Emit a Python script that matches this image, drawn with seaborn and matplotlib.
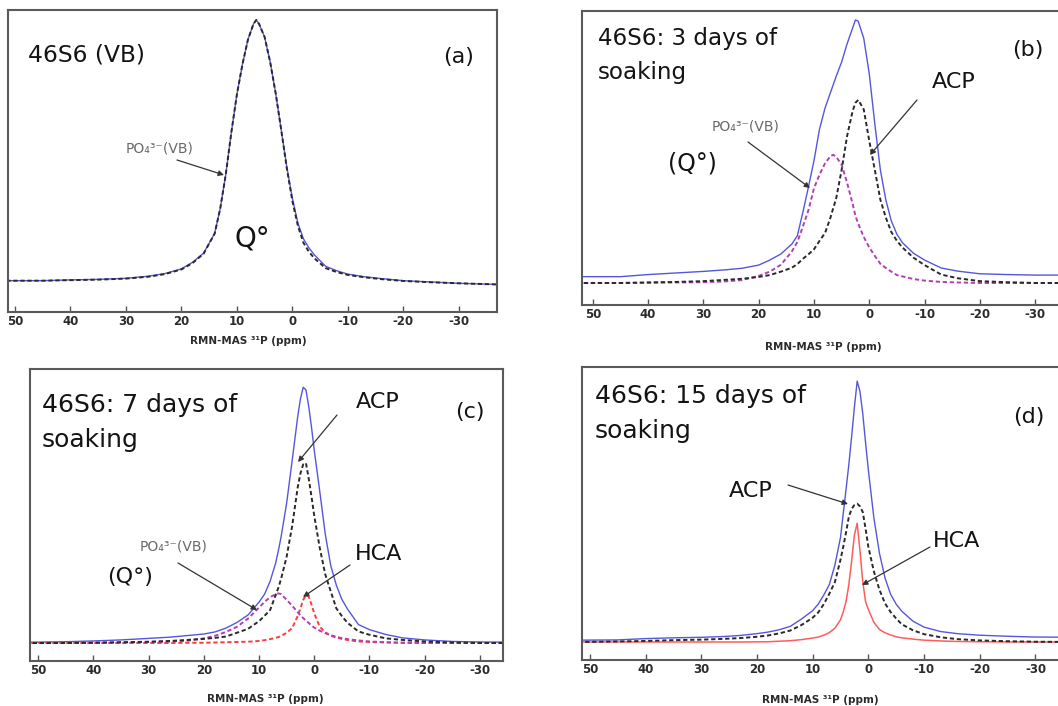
import matplotlib
matplotlib.use('Agg')
import matplotlib.pyplot as plt
import seaborn as sns

# 31P MAS-NMR spectra of 46S6 glass, before and after soaking
# intensities, baseline = 0, tallest peak = 100

ppm_a = [52, 45, 40, 35, 30, 26, 23, 20, 18, 16, 14, 13, 12, 11, 10, 9, 8, 7, 6.5, 6,
         5, 4, 3, 2, 1, 0, -1, -2, -3, -4, -6, -8, -10, -13, -16, -20, -25, -30, -38]
exp_a = [0.5, 0.5, 0.8, 1.0, 1.4, 2.2, 3.2, 5.0, 7.5, 11, 18.5, 28, 41, 57, 71.5, 83, 92.5, 98.5, 100, 98.5,
         93.5, 84, 72, 58, 44, 32, 22.5, 16.5, 13, 10.3, 6, 4.3, 3.0, 2.0, 1.3, 0.5, 0, -0.5, -1]
vb_a = [0.5, 0.5, 0.7, 0.9, 1.3, 2.0, 3.0, 4.8, 7.2, 10.8, 18.5, 28, 41, 57, 71.5, 83, 92.5, 98.5, 100, 98.5,
        93.5, 84, 72, 58, 43.5, 31, 21.5, 15, 11.5, 9, 5.3, 3.8, 2.7, 1.8, 1.1, 0.4, -0.1, -0.5, -1]

ppm_b = [52, 45, 40, 35, 30, 26, 23, 20, 18, 16, 14, 13, 12, 11, 10, 9, 8, 7, 6.5, 6,
         5, 4, 3, 2.5, 2, 1, 0, -1, -2, -3, -4, -5, -6, -8, -10, -13, -16, -20, -25, -30, -38]
exp_b = [2.4, 2.4, 3.2, 3.8, 4.4, 5.0, 5.6, 6.8, 8.7, 11, 14.8, 18, 27, 36.5, 46.5, 58.5, 66.5, 72.5, 75.5, 78.5,
         84, 91, 97, 100, 99.5, 93, 79.5, 60.5, 43, 31.5, 23.5, 18.5, 15.3, 11.3, 8.7, 5.7, 4.5, 3.5, 3.2, 3.0, 3.0]
acp_b = [0, 0, 0.2, 0.4, 0.7, 1.2, 1.6, 2.3, 3, 4.3, 5.8, 7.2, 9.2, 10.9, 12.8, 16, 19, 25, 28.6, 32,
         43, 56, 65.5, 68.5, 69.6, 66, 54, 43, 31.7, 24.8, 19.3, 16, 13.5, 9.6, 6.8, 3.2, 1.8, 0.7, 0.3, 0, 0]
vb_b = [0, 0, 0.1, 0.2, 0.3, 0.6, 1.1, 2.7, 4.3, 6.9, 12, 15.6, 21.5, 27.7, 36, 41.2, 45.5, 48.3, 48.7, 48,
        45, 38, 30, 25.5, 22.5, 17.5, 13.5, 10.3, 7.3, 5.7, 4.3, 3, 2.5, 1.5, 0.9, 0.4, 0.2, 0, 0, 0, 0]

ppm_c = [52, 45, 40, 35, 30, 26, 23, 20, 18, 16, 14, 12, 10, 9, 8, 7, 6.5, 6, 5, 4,
         3, 2.5, 2, 1.5, 1, 0.5, 0, -1, -2, -3, -4, -5, -6, -8, -10, -13, -16, -20, -25, -30, -38]
exp_c = [0.3, 0.5, 0.8, 1.2, 1.8, 2.3, 2.9, 3.5, 4.3, 5.8, 8, 10.9, 15.9, 19, 24, 31, 35.9, 41.4, 54.4, 71,
         88, 95, 99.5, 98.5, 92, 84, 75, 59, 42.3, 30, 22.5, 17, 13.3, 7.2, 5.2, 3.3, 2, 1.2, 0.6, 0.4, 0.3]
acp_c = [0, 0, 0.1, 0.3, 0.5, 0.8, 1.2, 1.6, 2, 2.5, 4, 5.5, 8.5, 10.6, 12.8, 18.6, 21.5, 25, 33.6, 45.5,
         60.5, 66, 69.5, 70, 64, 57, 49.5, 37, 26.7, 20, 13.5, 10.5, 7.9, 4.5, 3.2, 1.8, 1.2, 0.6, 0.2, 0, 0]
vb_c = [0, 0, 0.1, 0.2, 0.4, 0.6, 0.9, 1.8, 2.8, 4.3, 6.3, 9.5, 13.8, 16, 17.8, 19, 19.3, 19, 16.8, 14.5,
        12, 10.7, 9.7, 8.7, 7.8, 6.8, 6, 4.8, 3.8, 3, 2.4, 1.9, 1.5, 1, 0.6, 0.3, 0.1, 0, 0, 0, 0]
hca_c = [0, 0, 0, 0, 0, 0, 0.1, 0.1, 0.2, 0.3, 0.4, 0.5, 0.8, 1.1, 1.5, 2.0, 2.3, 2.7, 4.0, 5.8,
         10.5, 13.5, 16.8, 18.6, 18, 15, 11.5, 6.3, 4.2, 2.8, 2.1, 1.6, 1.2, 0.6, 0.4, 0.2, 0.1, 0, 0, 0, 0]

ppm_d = [52, 45, 40, 35, 30, 26, 23, 20, 18, 16, 14, 12, 10, 9, 8, 7, 6, 5, 4.5, 4, 3.5,
         3, 2.5, 2, 1.5, 1, 0.5, 0, -1, -2, -3, -4, -5, -6, -8, -10, -13, -16, -20, -25, -30, -38]
exp_d = [0.7, 0.8, 1.3, 1.6, 1.8, 2.1, 2.5, 3.2, 3.8, 4.7, 6, 8.8, 12, 14.5, 18, 22, 29.5, 40, 49.3, 58.5, 68,
         78.7, 90, 100, 96, 87.5, 76.5, 66, 47.5, 34, 24.5, 18.3, 14.5, 11.8, 8, 5.7, 4, 3.2, 2.6, 2.2, 1.9, 1.8]
acp_d = [0, 0.2, 0.4, 0.7, 0.9, 1.2, 1.5, 2.0, 2.5, 3.3, 4.4, 6.5, 9.3, 11.3, 14.5, 18.5, 23, 31.5, 36.5, 42, 48,
         51, 52.5, 53, 52, 49.8, 43.5, 36.5, 27, 20, 14.8, 11.5, 9, 6.8, 4.5, 3, 1.8, 1.1, 0.6, 0.3, 0.1, 0]
hca_d = [0, 0, 0, 0, 0, 0, 0, 0.05, 0.1, 0.3, 0.5, 0.9, 1.5, 1.9, 2.6, 3.6, 5.3, 8.5, 11.5, 15.5, 22,
         31, 41, 45.5, 35, 23, 15.5, 12.5, 7.5, 4.8, 3.5, 2.7, 2.0, 1.6, 1.1, 0.7, 0.4, 0.2, 0.1, 0, 0, 0]

tick_ppm = [50, 40, 30, 20, 10, 0, -10, -20, -30]
xlabel = 'RMN-MAS ³¹P (ppm)'
po4 = 'PO₄³⁻(VB)'

W, H = 1058, 706

blue = '#5656dc'
black = '#2a2a2a'
magenta = '#b23fb4'
red = '#ff3c3c'
red_solid = '#ff5c5c'
dash = (0, (2.2, 1.4))

sns.set_theme(style='white')
plt.rcParams['font.family'] = ['DejaVu Sans']
plt.rcParams['axes.unicode_minus'] = False


def P(x, y):
    # image pixel (from top left) -> figure fraction
    return x / W, 1 - y / H


def make_axes(fig, left, top, right, bottom, xlim, ylim):
    ax = fig.add_axes([left / W, 1 - bottom / H, (right - left) / W, (bottom - top) / H])
    ax.set_xlim(*xlim)
    ax.set_ylim(*ylim)
    ax.set_xticks(tick_ppm)
    ax.set_xticklabels([str(t) for t in tick_ppm])
    ax.set_yticks([])
    ax.tick_params(axis='x', direction='in', length=4, width=1, color='#555555',
                   labelsize=8.5, labelcolor='#2b2b2b', pad=2, bottom=True)
    for lab in ax.get_xticklabels():
        lab.set_fontweight('bold')
    for sp in ax.spines.values():
        sp.set_color('#5a5a5a')
        sp.set_linewidth(1.5)
    ax.set_xlabel('')
    ax.set_ylabel('')
    return ax


def curve(ax, x, y, color, ls='-', lw=1.0):
    sns.lineplot(x=x, y=y, ax=ax, color=color, linestyle=ls, linewidth=lw)


def arrow(ax, tail, tip):
    ax.annotate('', xy=P(*tip), xytext=P(*tail), xycoords='figure fraction',
                textcoords='figure fraction',
                arrowprops=dict(arrowstyle='-|>', color='#333333', lw=0.9,
                                mutation_scale=8, shrinkA=0, shrinkB=0))


def label(fig, x, y, s, size, color='#141414'):
    fig.text(*P(x, y), s, fontsize=size, color=color, ha='left', va='baseline')


fig = plt.figure(figsize=(W / 100, H / 100), dpi=100)

# (a)
ax = make_axes(fig, 8, 10, 497, 312, (51.26, -36.9), (-11.45, 103.8))
curve(ax, ppm_a, exp_a, blue, lw=1.0)
curve(ax, ppm_a, vb_a, black, ls=dash, lw=1.4)
label(fig, 28, 62, '46S6 (VB)', 16.8)
label(fig, 443, 63, '(a)', 16)
label(fig, 126, 152, po4, 10, '#6a6a6a')
label(fig, 235, 247, 'Q°', 20)
arrow(ax, (177, 160), (224, 175))
fig.text(*P(248, 341), xlabel, fontsize=7.5, fontweight='bold', color='#2b2b2b', ha='center', va='center')

# (b)
ax = make_axes(fig, 582, 11, 1075, 305, (51.95, -37.2), (-8.37, 103.4))
curve(ax, ppm_b, exp_b, blue, lw=1.0)
curve(ax, ppm_b, vb_b, magenta, ls=dash, lw=1.4)
curve(ax, ppm_b, acp_b, black, ls=dash, lw=1.4)
label(fig, 598, 45, '46S6: 3 days of', 16.6)
label(fig, 598, 79, 'soaking', 16.6)
label(fig, 1012, 56, '(b)', 16)
label(fig, 932, 88, 'ACP', 16)
label(fig, 712, 131, po4, 10, '#6a6a6a')
label(fig, 668, 170, '(Q°)', 17)
arrow(ax, (917, 100), (870, 155))
arrow(ax, (748, 142), (810, 188))
fig.text(*P(823, 347), xlabel, fontsize=7.5, fontweight='bold', color='#2b2b2b', ha='center', va='center')

# (c)
ax = make_axes(fig, 30, 369, 503, 661, (51.5, -34.2), (-7.0, 106.6))
curve(ax, ppm_c, exp_c, blue, lw=1.0)
curve(ax, ppm_c, hca_c, red, ls=dash, lw=1.4)
curve(ax, ppm_c, vb_c, magenta, ls=dash, lw=1.4)
curve(ax, ppm_c, acp_c, black, ls=dash, lw=1.4)
label(fig, 42, 412, '46S6: 7 days of', 18)
label(fig, 42, 447, 'soaking', 18)
label(fig, 455, 418, '(c)', 16)
label(fig, 356, 408, 'ACP', 16)
label(fig, 140, 551, po4, 10, '#6a6a6a')
label(fig, 107, 583, '(Q°)', 16)
label(fig, 355, 560, 'HCA', 16)
arrow(ax, (337, 415), (298, 462))
arrow(ax, (178, 563), (257, 610))
arrow(ax, (350, 565), (303, 597))
fig.text(*P(265, 699), xlabel, fontsize=7.5, fontweight='bold', color='#2b2b2b', ha='center', va='center')

# (d)
ax = make_axes(fig, 582, 367, 1075, 660, (51.4, -37.1), (-6.9, 105.4))
curve(ax, ppm_d, exp_d, blue, lw=1.0)
curve(ax, ppm_d, hca_d, red_solid, lw=1.1)
curve(ax, ppm_d, acp_d, black, ls=dash, lw=1.4)
label(fig, 595, 403, '46S6: 15 days of', 18)
label(fig, 595, 438, 'soaking', 18)
label(fig, 1013, 423, '(d)', 16)
label(fig, 729, 497, 'ACP', 16)
label(fig, 933, 547, 'HCA', 16)
arrow(ax, (788, 485), (848, 504))
arrow(ax, (930, 547), (862, 585))
fig.text(*P(820, 700), xlabel, fontsize=7.5, fontweight='bold', color='#2b2b2b', ha='center', va='center')

fig.savefig('out.png', dpi=100)
